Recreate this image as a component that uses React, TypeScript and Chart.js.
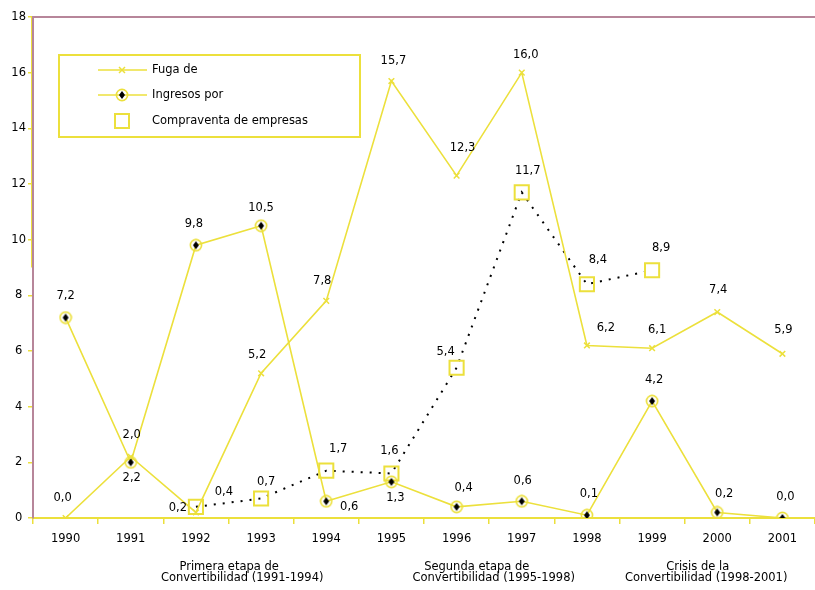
import React, { useEffect, useRef } from "react";
import { Chart, registerables } from "chart.js";

Chart.register(...registerables);

// ---------- data ----------
const years = ["1990", "1991", "1992", "1993", "1994", "1995", "1996", "1997", "1998", "1999", "2000", "2001"];
const fuga = [0.0, 2.2, 0.2, 5.2, 7.8, 15.7, 12.3, 16.0, 6.2, 6.1, 7.4, 5.9];
const ingresos = [7.2, 2.0, 9.8, 10.5, 0.6, 1.3, 0.4, 0.6, 0.1, 4.2, 0.2, 0.0];
const compraventa = [null, null, 0.4, 0.7, 1.7, 1.6, 5.4, 11.7, 8.4, 8.9, null, null];
const seriesNames = ["Fuga de", "Ingresos por", "Compraventa de empresas"];
const periodLines = [
  ["Primera etapa de", "Convertibilidad (1991-1994)"],
  ["Segunda etapa de", "Convertibilidad (1995-1998)"],
  ["Crisis de la", "Convertibilidad (1998-2001)"],
];
const yMin = 0;
const yMax = 18;
const yStep = 2;

// ---------- styles ----------
const YEL = "#ece03c";
const MAUVE = "#b7869a";
const FONT = "DejaVu Sans";
const FS = 11.5;

// label offsets [dx, dy] relative to point, per dataset
const labelOffsets = [
  [[-3, -20], [1, 21], [-18, -4], [-4, -18], [-4, -20], [2, -20], [6, -28], [4, -18], [19, -17], [5, -18], [1, -22], [1, -24]],
  [[0, -22], [1, -27], [-2, -21], [0, -18], [23, 6], [4, 16], [7, -19], [1, -20], [2, -21], [2, -21], [7, -18], [3, -21]],
  [[0, 0], [0, 0], [28, -15], [5, -17], [12, -22], [-2, -22], [-11, -16], [6, -21], [11, -24], [9, -22], [0, 0], [0, 0]],
];
// period label line centres as fractional category indices
const periodPos = [
  [2.51, 2.71],
  [6.31, 6.57],
  [9.7, 9.83],
];

function makeIngresosMarker() {
  const c = document.createElement("canvas");
  c.width = 14;
  c.height = 14;
  const g = c.getContext("2d")!;
  g.strokeStyle = YEL;
  g.lineWidth = 1.6;
  g.beginPath();
  g.arc(7, 7, 5.6, 0, Math.PI * 2);
  g.stroke();
  g.fillStyle = "#000";
  g.beginPath();
  g.moveTo(7, 3);
  g.lineTo(10, 7);
  g.lineTo(7, 11);
  g.lineTo(4, 7);
  g.closePath();
  g.fill();
  return c;
}

const fmt = (v: number) => v.toFixed(1).replace(".", ",");

export default function App() {
  const ref = useRef<HTMLCanvasElement>(null);

  useEffect(() => {
    const marker = makeIngresosMarker();

    const decorPlugin = {
      id: "decor",
      afterDatasetsDraw(chart: any) {
        const { ctx, chartArea } = chart;
        const ys = chart.scales.y;
        const xs = chart.scales.x;
        ctx.save();
        // top border
        ctx.strokeStyle = MAUVE;
        ctx.lineWidth = 2;
        ctx.beginPath();
        ctx.moveTo(chartArea.left, chartArea.top);
        ctx.lineTo(chart.width, chartArea.top);
        ctx.stroke();
        // yellow segment along the left axis
        ctx.strokeStyle = YEL;
        ctx.lineWidth = 1;
        ctx.beginPath();
        ctx.moveTo(chartArea.left - 1.5, ys.getPixelForValue(18));
        ctx.lineTo(chartArea.left - 1.5, ys.getPixelForValue(9));
        ctx.stroke();

        // data labels
        ctx.fillStyle = "#000";
        ctx.font = `${FS}px "${FONT}"`;
        ctx.textAlign = "center";
        ctx.textBaseline = "middle";
        chart.data.datasets.forEach((ds: any, di: number) => {
          const meta = chart.getDatasetMeta(di);
          ds.data.forEach((v: any, i: number) => {
            if (v === null || v === undefined) return;
            const el = meta.data[i];
            const off = labelOffsets[di][i];
            ctx.fillText(fmt(v), el.x + off[0], el.y + off[1]);
          });
        });

        // period labels
        periodLines.forEach((lines, pi) => {
          lines.forEach((t, li) => {
            const x = xs.getPixelForValue(periodPos[pi][li]);
            ctx.fillText(t, x, chartArea.bottom + 49 + li * 11);
          });
        });

        // legend
        const lx = chartArea.left + 26;
        const ly = chartArea.top + 38;
        ctx.strokeStyle = YEL;
        ctx.lineWidth = 2;
        ctx.strokeRect(lx, ly, 301, 82);
        const rows = [ly + 15, ly + 40, ly + 66];
        const sx0 = lx + 39;
        const sx1 = lx + 88;
        const mx = lx + 63;
        ctx.lineWidth = 1.5;
        ctx.beginPath();
        ctx.moveTo(sx0, rows[0]);
        ctx.lineTo(sx1, rows[0]);
        ctx.stroke();
        ctx.beginPath();
        ctx.moveTo(mx - 3, rows[0] - 3);
        ctx.lineTo(mx + 3, rows[0] + 3);
        ctx.moveTo(mx + 3, rows[0] - 3);
        ctx.lineTo(mx - 3, rows[0] + 3);
        ctx.stroke();
        ctx.beginPath();
        ctx.moveTo(sx0, rows[1]);
        ctx.lineTo(sx1, rows[1]);
        ctx.stroke();
        ctx.drawImage(marker, mx - 7, rows[1] - 7);
        ctx.lineWidth = 2;
        ctx.strokeRect(mx - 7, rows[2] - 7, 14, 14);
        ctx.fillStyle = "#000";
        ctx.textAlign = "left";
        seriesNames.forEach((n, i) => {
          ctx.fillText(n, lx + 93, rows[i]);
        });
        ctx.restore();
      },
    };

    const chart = new Chart(ref.current!, {
      type: "line",
      data: {
        labels: years,
        datasets: [
          {
            label: seriesNames[0],
            data: fuga,
            borderColor: YEL,
            backgroundColor: YEL,
            borderWidth: 1.6,
            pointStyle: "crossRot",
            pointRadius: 4,
            pointBorderWidth: 1.5,
            pointBorderColor: YEL,
            tension: 0,
          },
          {
            label: seriesNames[1],
            data: ingresos,
            borderColor: YEL,
            backgroundColor: YEL,
            borderWidth: 1.6,
            pointStyle: marker as any,
            pointRadius: 6,
            tension: 0,
          },
          {
            label: seriesNames[2],
            data: compraventa as any,
            borderColor: "#000",
            borderWidth: 2,
            borderDash: [2, 7],
            pointStyle: "rect",
            pointRadius: 10,
            pointBorderColor: YEL,
            pointBackgroundColor: "rgba(0,0,0,0)",
            pointBorderWidth: 2,
            spanGaps: false,
            tension: 0,
          },
        ],
      },
      options: {
        responsive: false,
        animation: false,
        events: [],
        layout: { autoPadding: false, padding: { top: 17, left: 0, right: 0, bottom: 0 } },
        plugins: {
          legend: { display: false },
          tooltip: { enabled: false },
        },
        scales: {
          x: {
            type: "category",
            offset: true,
            afterFit: (s: any) => {
              s.height = 72;
              s.paddingLeft = 0;
              s.paddingRight = 0;
            },
            grid: {
              offset: true,
              drawOnChartArea: false,
              drawTicks: true,
              tickLength: 6,
              color: YEL,
              lineWidth: 1.5,
            },
            border: { color: YEL, width: 2 },
            ticks: {
              color: "#000",
              font: { family: FONT, size: FS },
              padding: 8,
              maxRotation: 0,
              autoSkip: false,
            },
          },
          y: {
            min: yMin,
            max: yMax,
            afterFit: (s: any) => {
              s.width = 33;
              s.paddingTop = 0;
              s.paddingBottom = 0;
            },
            grid: {
              drawOnChartArea: false,
              drawTicks: true,
              tickLength: 5,
              color: YEL,
              lineWidth: 1.5,
            },
            border: { color: MAUVE, width: 2 },
            ticks: {
              stepSize: yStep,
              color: "#000",
              font: { family: FONT, size: FS },
              padding: 2,
              crossAlign: "center",
            },
          },
        },
      },
      plugins: [decorPlugin],
    } as any);

    return () => chart.destroy();
  }, []);

  return (
    <div style={{ position: "fixed", left: 0, top: 0, width: 815, height: 590, background: "#fff", overflow: "hidden" }}>
      <canvas ref={ref} width={815} height={590} style={{ display: "block", width: 815, height: 590 }} />
    </div>
  );
}
